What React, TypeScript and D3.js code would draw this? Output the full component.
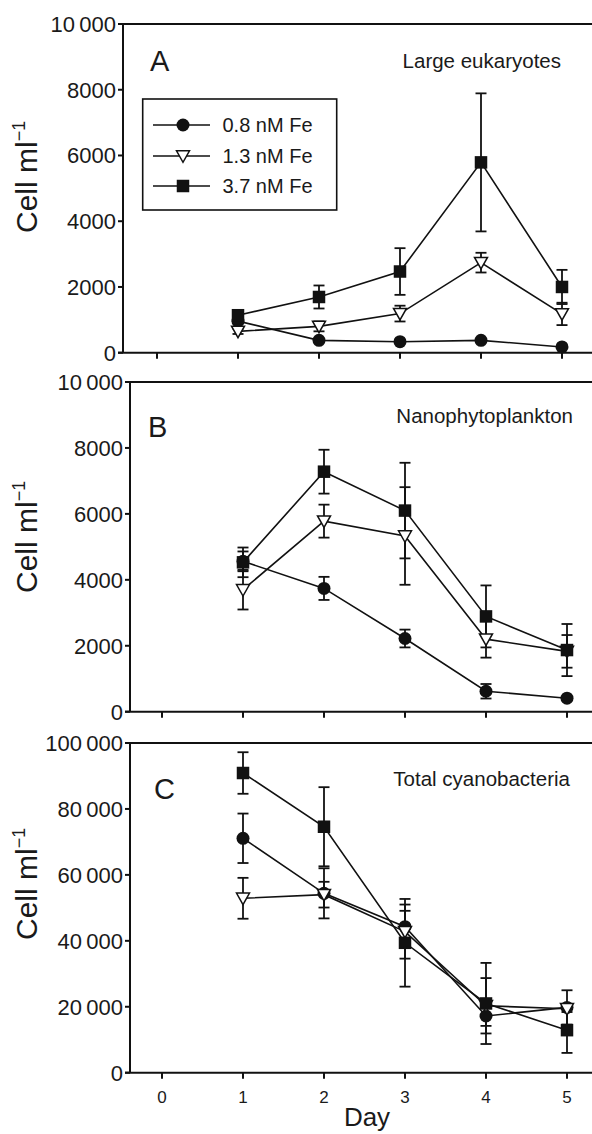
import React from "react";
import * as d3 from "d3";

// ---------- data ----------
const days = [1, 2, 3, 4, 5];
const xTicks = [0, 1, 2, 3, 4, 5];
const seriesLabels = ["0.8 nM Fe", "1.3 nM Fe", "3.7 nM Fe"];
const seriesShapes = ["circle", "triangle", "square"];

const yTicksAB = [0, 2000, 4000, 6000, 8000, 10000];
const yTickLabelsAB = ["0", "2000", "4000", "6000", "8000", "10\u2009000"];
const yTicksC = [0, 20000, 40000, 60000, 80000, 100000];
const yTickLabelsC = ["0", "20\u2009000", "40\u2009000", "60\u2009000", "80\u2009000", "100\u2009000"];

// Panel A: Large eukaryotes
const largeEuk08 = [960, 375, 335, 375, 175];
const largeEuk08Err = [60, 50, 40, 50, 30];
const largeEuk13 = [650, 800, 1190, 2740, 1180];
const largeEuk13Err = [80, 150, 240, 300, 340];
const largeEuk37 = [1140, 1695, 2470, 5790, 2000];
const largeEuk37Err = [100, 350, 710, 2100, 520];

// Panel B: Nanophytoplankton
const nano08 = [4560, 3740, 2220, 620, 410];
const nano08Err = [300, 350, 270, 220, 40];
const nano13 = [3700, 5780, 5330, 2200, 1830];
const nano13Err = [600, 500, 1480, 560, 495];
const nano37 = [4530, 7280, 6100, 2890, 1870];
const nano37Err = [450, 665, 1450, 940, 790];

// Panel C: Total cyanobacteria
const cyano08 = [71100, 54400, 44300, 17200, 19800];
const cyano08Err = [7500, 7600, 4800, 3000, 5200];
const cyano13 = [52900, 54000, 42800, 20300, 19400];
const cyano13Err = [6200, 3900, 8200, 8400, 1000];
const cyano37 = [90900, 74600, 39400, 21000, 12900];
const cyano37Err = [6300, 12000, 13300, 12300, 6900];

// ---------- layout ----------
const W = 592;
const H = 1134;
const FONT = "'Liberation Sans', Arial, Helvetica, sans-serif";
const DAY_STEP = 81;
const INK = "#1a1a1a";

type Panel = {
  letter: string;
  title: string;
  left: number;
  day0: number;
  top: number;
  bottom: number;
  yMax: number;
  ticks: number[];
  tickLabels: string[];
  values: number[][];
  errs: number[][];
  letterPos: [number, number];
  titlePos: [number, number];
  yTitleBottom: number;
  showXLabels: boolean;
  legend: boolean;
};

const panels: Panel[] = [
  {
    letter: "A",
    title: "Large eukaryotes",
    left: 123,
    day0: 157,
    top: 24,
    bottom: 352.7,
    yMax: 10000,
    ticks: yTicksAB,
    tickLabels: yTickLabelsAB,
    values: [largeEuk08, largeEuk13, largeEuk37],
    errs: [largeEuk08Err, largeEuk13Err, largeEuk37Err],
    letterPos: [150, 71],
    titlePos: [561, 68],
    yTitleBottom: 233,
    showXLabels: false,
    legend: true,
  },
  {
    letter: "B",
    title: "Nanophytoplankton",
    left: 130,
    day0: 162,
    top: 382,
    bottom: 711.7,
    yMax: 10000,
    ticks: yTicksAB,
    tickLabels: yTickLabelsAB,
    values: [nano08, nano13, nano37],
    errs: [nano08Err, nano13Err, nano37Err],
    letterPos: [148, 437],
    titlePos: [573, 422.5],
    yTitleBottom: 593,
    showXLabels: false,
    legend: false,
  },
  {
    letter: "C",
    title: "Total cyanobacteria",
    left: 130,
    day0: 162,
    top: 743,
    bottom: 1072.7,
    yMax: 100000,
    ticks: yTicksC,
    tickLabels: yTickLabelsC,
    values: [cyano08, cyano13, cyano37],
    errs: [cyano08Err, cyano13Err, cyano37Err],
    letterPos: [154, 799],
    titlePos: [570, 785.5],
    yTitleBottom: 940,
    showXLabels: true,
    legend: false,
  },
];

const CIRCLE_R = 6.5;
const SQUARE = 12.5;
const TRI_W = 13;
const TRI_H = 11.5;
const CAP = 5.5;

function Marker({ shape, x, y }: { shape: string; x: number; y: number }) {
  if (shape === "circle") {
    return <circle cx={x} cy={y} r={CIRCLE_R} fill="#111" />;
  }
  if (shape === "square") {
    return <rect x={x - SQUARE / 2} y={y - SQUARE / 2} width={SQUARE} height={SQUARE} fill="#111" />;
  }
  const pts = [
    [x - TRI_W / 2, y - TRI_H * 0.45],
    [x + TRI_W / 2, y - TRI_H * 0.45],
    [x, y + TRI_H * 0.55],
  ]
    .map((p) => p.join(","))
    .join(" ");
  return <polygon points={pts} fill="#fff" stroke="#111" strokeWidth={1.5} strokeLinejoin="miter" />;
}

function PanelView({ p }: { p: Panel }) {
  const x = d3.scaleLinear().domain([0, 5]).range([p.day0, p.day0 + 5 * DAY_STEP]);
  const y = d3.scaleLinear().domain([0, p.yMax]).range([p.bottom, p.top]);
  const line = d3
    .line<number>()
    .x((_, i) => x(days[i]))
    .y((v) => y(v));
  const order = [0, 1, 2];
  return (
    <g>
      {/* axes */}
      <line x1={p.left} x2={W} y1={p.top} y2={p.top} stroke="#111" strokeWidth={2} />
      <line x1={p.left - 5} x2={W} y1={p.bottom} y2={p.bottom} stroke="#111" strokeWidth={2} />
      <line x1={p.left} x2={p.left} y1={p.top} y2={p.bottom} stroke="#111" strokeWidth={2} />
      {p.ticks.map((t, i) => (
        <g key={"yt" + t}>
          <line x1={p.left - 5} x2={p.left} y1={y(t)} y2={y(t)} stroke="#111" strokeWidth={2} />
          <text x={p.left - 7} y={y(t)} dy="0.36em" textAnchor="end" fontSize={22} fontFamily={FONT} fill={INK}>
            {p.tickLabels[i]}
          </text>
        </g>
      ))}
      {xTicks.map((t) => (
        <g key={"xt" + t}>
          <line x1={x(t)} x2={x(t)} y1={p.bottom} y2={p.bottom + 6} stroke="#111" strokeWidth={2} />
          {p.showXLabels && (
            <text x={x(t)} y={p.bottom + 30.5} textAnchor="middle" fontSize={17} fontFamily={FONT} fill={INK}>
              {t}
            </text>
          )}
        </g>
      ))}
      {/* y title */}
      <text transform={`translate(37,${p.yTitleBottom}) rotate(-90)`} fontSize={30} fontFamily={FONT} fill={INK}>
        Cell ml
        <tspan fontSize={18} dy={-12}>
          {"\u2212"}1
        </tspan>
      </text>
      {/* letter & title */}
      <text x={p.letterPos[0]} y={p.letterPos[1]} fontSize={29} fontFamily={FONT} fill={INK}>
        {p.letter}
      </text>
      <text x={p.titlePos[0]} y={p.titlePos[1]} textAnchor="end" fontSize={20.5} fontFamily={FONT} fill={INK}>
        {p.title}
      </text>
      {/* series lines and error bars */}
      {order.map((si) => {
        const vals = p.values[si];
        const errs = p.errs[si];
        return (
          <g key={"s" + si}>
            <path d={line(vals) || ""} fill="none" stroke="#111" strokeWidth={1.6} />
            {vals.map((v, i) => {
              const cx = x(days[i]);
              const yHi = y(v + errs[i]);
              const yLo = y(Math.max(0, v - errs[i]));
              return (
                <g key={"e" + i} stroke="#111" strokeWidth={1.8}>
                  <line x1={cx} x2={cx} y1={yHi} y2={yLo} />
                  <line x1={cx - CAP} x2={cx + CAP} y1={yHi} y2={yHi} />
                  <line x1={cx - CAP} x2={cx + CAP} y1={yLo} y2={yLo} />
                </g>
              );
            })}
          </g>
        );
      })}
      {/* markers: circle, then triangle, then square on top */}
      {order.map((si) => (
        <g key={"m" + si}>
          {p.values[si].map((v, i) => (
            <Marker key={i} shape={seriesShapes[si]} x={x(days[i])} y={y(v)} />
          ))}
        </g>
      ))}
      {p.legend && <Legend />}
    </g>
  );
}

function Legend() {
  const bx = 142.7;
  const by = 99;
  const bw = 194;
  const bh = 111;
  const rows = [125, 156, 186];
  return (
    <g>
      <rect x={bx} y={by} width={bw} height={bh} fill="#fff" stroke="#111" strokeWidth={1.6} />
      {seriesLabels.map((lab, i) => (
        <g key={lab}>
          <line x1={153} x2={210} y1={rows[i]} y2={rows[i]} stroke="#111" strokeWidth={1.6} />
          <Marker shape={seriesShapes[i]} x={183} y={rows[i]} />
          <text x={222.5} y={rows[i]} dy="0.36em" fontSize={20} fontFamily={FONT} fill={INK}>
            {lab}
          </text>
        </g>
      ))}
    </g>
  );
}

export default function App() {
  return (
    <svg
      width={W}
      height={H}
      viewBox={`0 0 ${W} ${H}`}
      style={{ position: "absolute", left: 0, top: 0, background: "#fff" }}
    >
      <rect x={0} y={0} width={W} height={H} fill="#fff" />
      {panels.map((p) => (
        <PanelView key={p.letter} p={p} />
      ))}
      <text x={367} y={1126} textAnchor="middle" fontSize={26} fontFamily={FONT} fill={INK}>
        Day
      </text>
    </svg>
  );
}
